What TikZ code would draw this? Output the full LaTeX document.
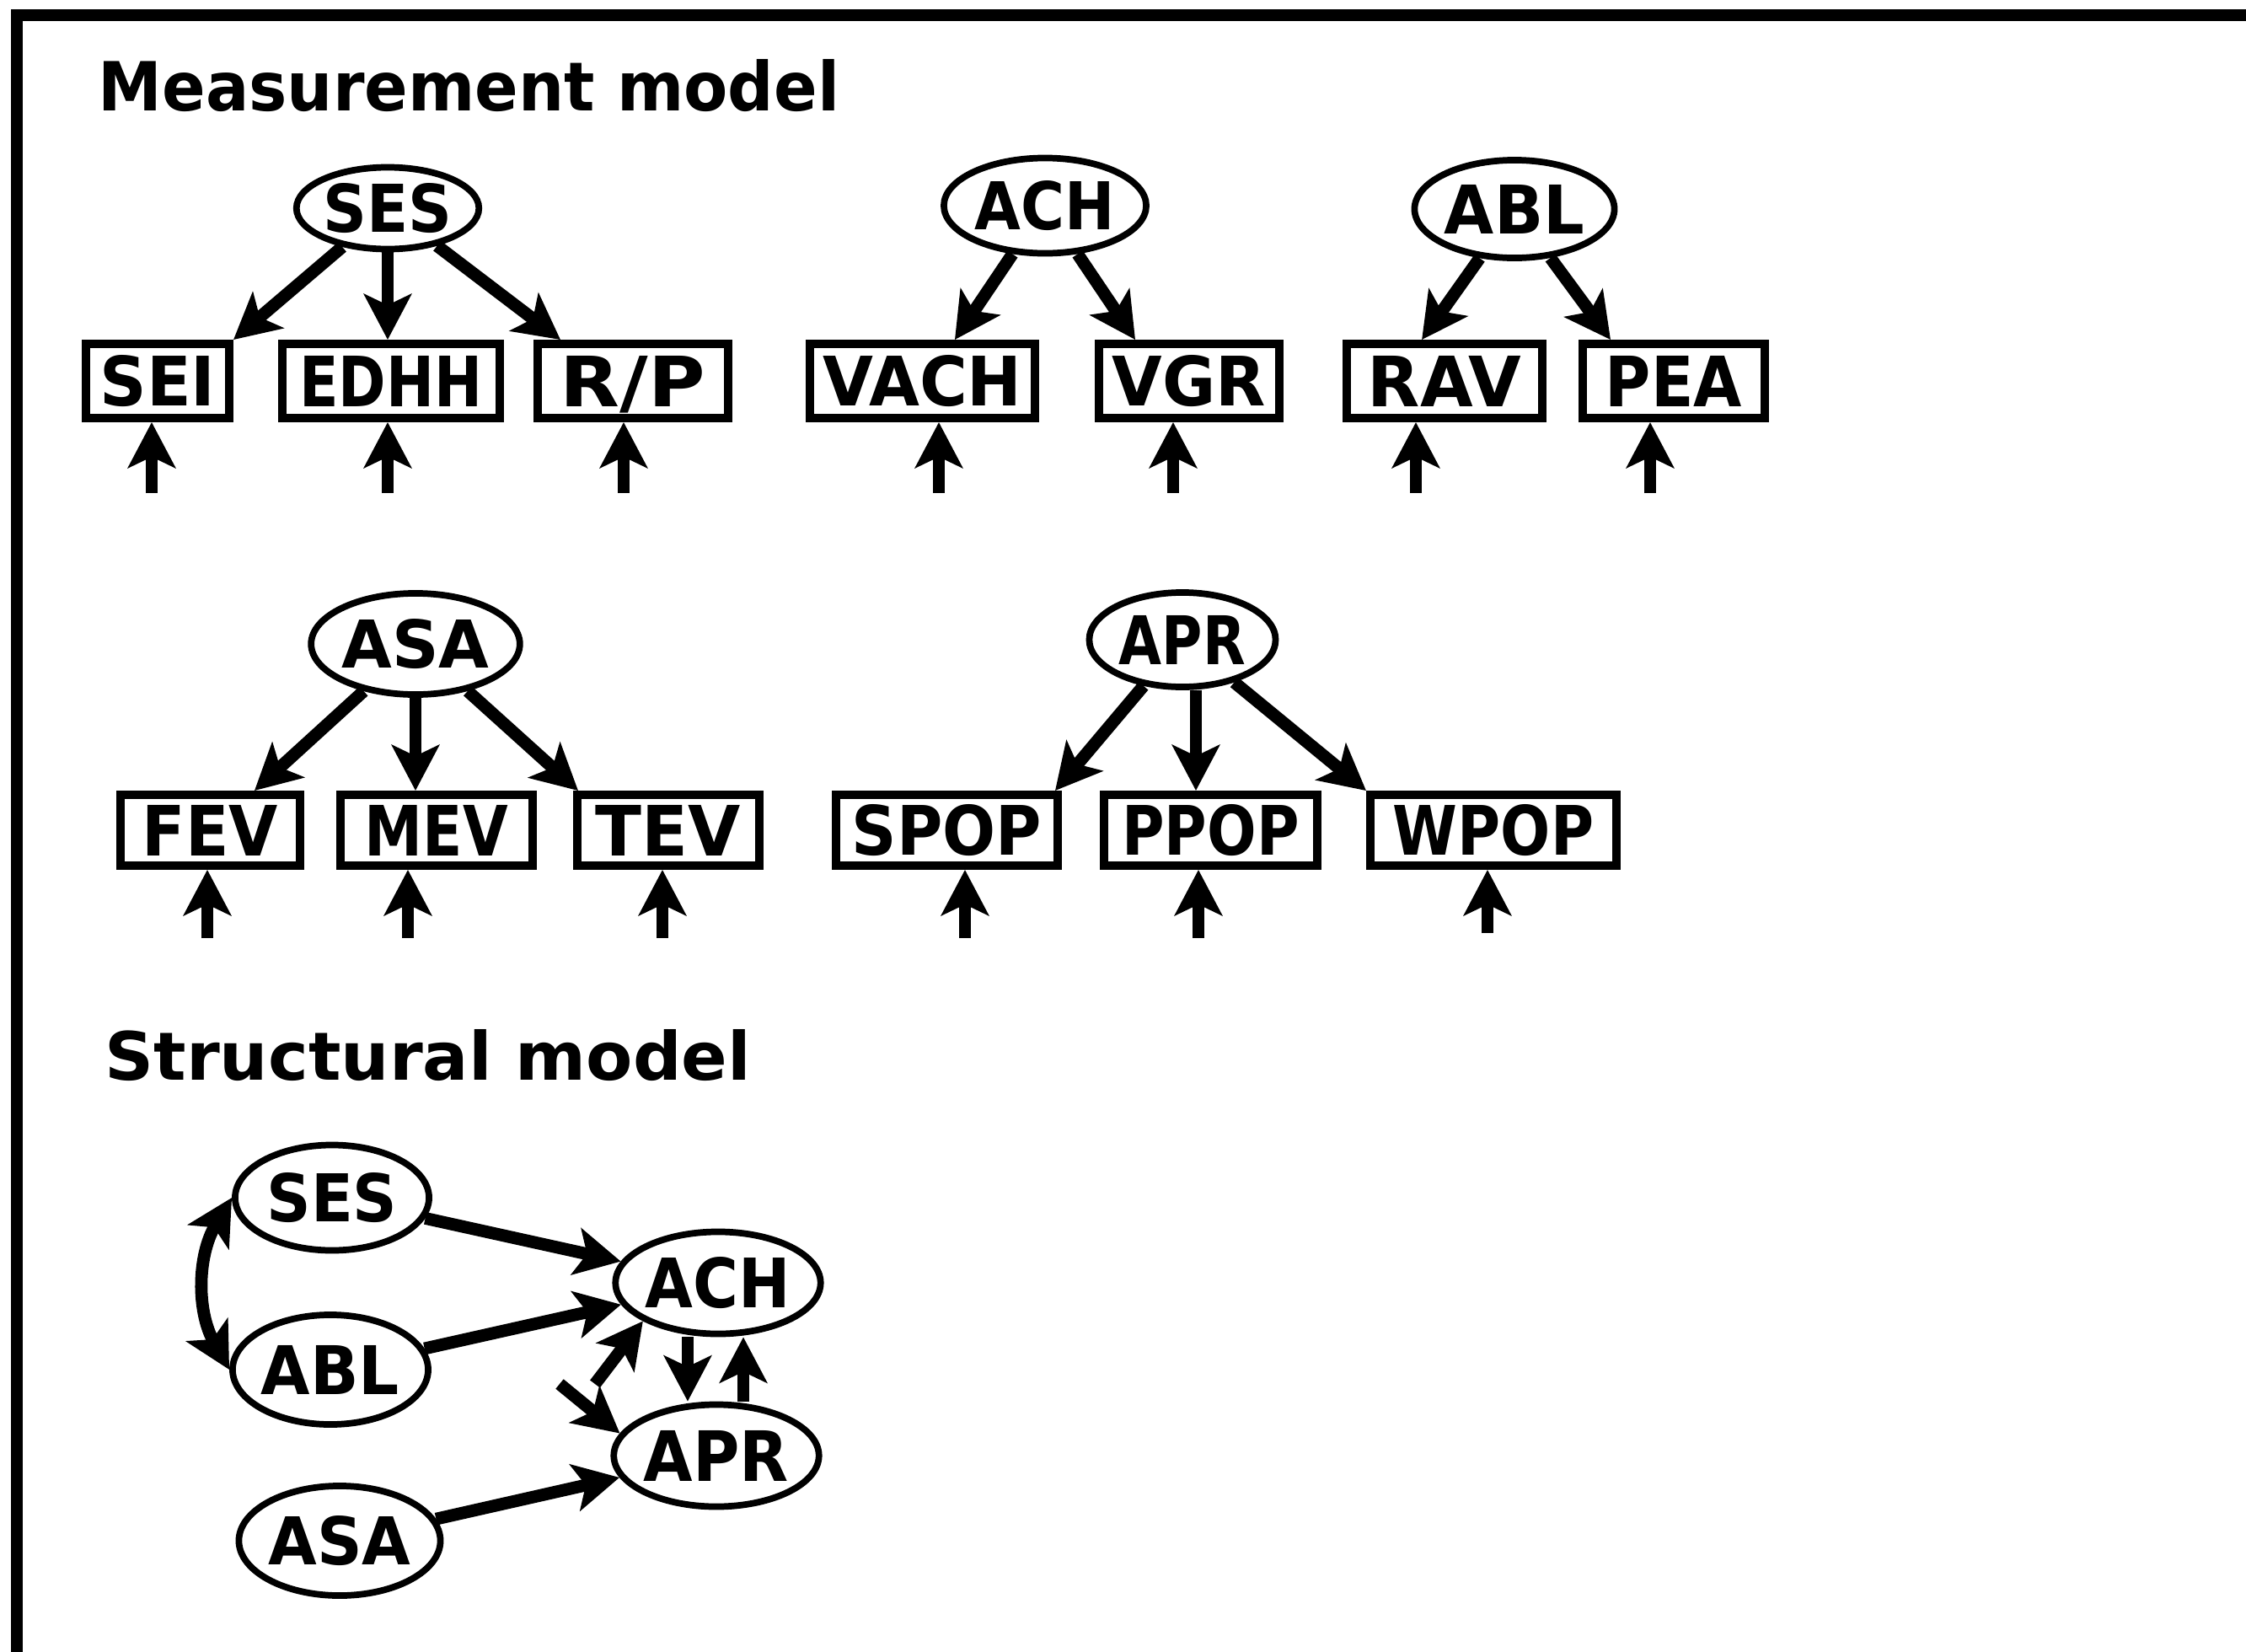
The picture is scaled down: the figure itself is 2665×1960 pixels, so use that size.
\documentclass[tikz,border=0pt]{standalone}
\usepackage{fontspec}
\setmainfont{DejaVu Sans}
\usetikzlibrary{arrows.meta,shapes.geometric,calc}
\newcommand{\fitt}[3]{\resizebox{#1}{#2}{\bfseries #3}}
\begin{document}
\begin{tikzpicture}[x=0.01cm,y=-0.01cm,
  lat/.style={draw, ellipse, line width=2.2pt, inner sep=0pt},
  obs/.style={draw, rectangle, line width=2.8pt, inner sep=0pt},
  arr/.style={line width=4.2pt, -{Stealth[length=5.4mm,width=5.6mm,inset=1.3mm]}},
  darr/.style={line width=4.2pt, {Stealth[length=5.4mm,width=5.6mm,inset=1.3mm]}-{Stealth[length=5.4mm,width=5.6mm,inset=1.3mm]}},
  ]
\useasboundingbox (0,0) rectangle (2665,1960);
% frame
\draw[line width=4.2pt] (20,1960) -- (20,18) -- (2665,18);

% titles
\node[anchor=south west, inner sep=0pt] (tMeas) at (116,133) {\fitt{87.9mm}{6.1mm}{Measurement model}};
\node[anchor=south west, inner sep=0pt] (tStruct) at (124,1283) {\fitt{76.6mm}{6.0mm}{Structural model}};

% ---------- measurement model, row 1
\node[lat, minimum width=21.6mm, minimum height=9.7mm] (SES) at (460,247) {\fitt{15.3mm}{5.8mm}{SES}};
\node[lat, minimum width=24.0mm, minimum height=11.3mm] (ACH) at (1240,244) {\fitt{16.6mm}{5.8mm}{ACH}};
\node[lat, minimum width=23.7mm, minimum height=11.6mm] (ABL) at (1797,248) {\fitt{16.6mm}{5.8mm}{ABL}};

\node[obs, minimum width=17.0mm, minimum height=8.8mm] (SEI) at (187,452) {\fitt{13.7mm}{6mm}{SEI}};
\node[obs, minimum width=25.8mm, minimum height=8.8mm] (EDHH) at (464,452) {\fitt{21.7mm}{6mm}{EDHH}};
\node[obs, minimum width=22.6mm, minimum height=8.8mm] (RP) at (751,452) {\fitt{17.2mm}{6mm}{R\smash{/}P}};
\node[obs, minimum width=26.7mm, minimum height=8.8mm] (VACH) at (1094.5,452) {\fitt{23.6mm}{6mm}{VACH}};
\node[obs, minimum width=21.4mm, minimum height=8.8mm] (VGR) at (1411,452) {\fitt{18.2mm}{6mm}{VGR}};
\node[obs, minimum width=23.2mm, minimum height=8.8mm] (RAV) at (1714,452) {\fitt{18.2mm}{6mm}{RAV}};
\node[obs, minimum width=21.6mm, minimum height=8.8mm] (PEA) at (1986,452) {\fitt{16.2mm}{6mm}{PEA}};

\draw[arr] (SES) -- (SEI.north east);
\draw[arr] (SES) -- (SES |- EDHH.north);
\draw[arr] (SES) -- ([xshift=3.2mm]RP.north west);
\draw[arr] (ACH) -- ([xshift=-10mm]VACH.north east);
\draw[arr] (ACH) -- ([xshift=4.8mm]VGR.north west);
\draw[arr] (ABL) -- ([xshift=9.4mm]RAV.north west);
\draw[arr] (ABL) -- ([xshift=3.8mm]PEA.north west);

\foreach \n/\xx in {SEI/180, EDHH/460, RP/740, VACH/1114, VGR/1392, RAV/1680, PEA/1958}{
  \coordinate (e\n) at (\xx,585);
  \draw[arr] (e\n) -- (e\n |- \n.south);
}

% ---------- measurement model, row 2
\node[lat, minimum width=22.4mm, minimum height=12.0mm] (ASA) at (493,764) {\fitt{17.5mm}{5.8mm}{ASA}};
\node[lat, minimum width=22.1mm, minimum height=11.2mm] (APR) at (1403,759) {\fitt{15.0mm}{5.8mm}{APR}};

\node[obs, minimum width=21.3mm, minimum height=8.4mm] (FEV) at (249.5,985) {\fitt{16.1mm}{6mm}{FEV}};
\node[obs, minimum width=22.8mm, minimum height=8.4mm] (MEV) at (518,985) {\fitt{17.0mm}{6mm}{MEV}};
\node[obs, minimum width=21.6mm, minimum height=8.4mm] (TEV) at (793,985) {\fitt{17.2mm}{6mm}{TEV}};
\node[obs, minimum width=26.3mm, minimum height=8.4mm] (SPOP) at (1123.5,985) {\fitt{22.5mm}{6mm}{SPOP}};
\node[obs, minimum width=25.3mm, minimum height=8.4mm] (PPOP) at (1436.5,985) {\fitt{21.0mm}{6mm}{PPOP}};
\node[obs, minimum width=29.2mm, minimum height=8.4mm] (WPOP) at (1772,985) {\fitt{23.8mm}{6mm}{WPOP}};

\draw[arr] (ASA) -- ([xshift=-5.9mm]FEV.north east);
\draw[arr] (ASA) -- (ASA |- MEV.north);
\draw[arr] (ASA) -- ([xshift=0.6mm]TEV.north west);
\draw[arr] (APR) -- ([xshift=-0.8mm]SPOP.north east);
\draw[arr] ([xshift=1.6mm]APR.south) -- ([xshift=1.6mm]APR.south |- PPOP.north);
\draw[arr] (APR) -- (WPOP.north west);

\foreach \n/\xx/\yy in {FEV/246/1113, MEV/484/1113, TEV/786/1113, SPOP/1145/1113, PPOP/1422/1113, WPOP/1765/1107}{
  \coordinate (e\n) at (\xx,\yy);
  \draw[arr] (e\n) -- (e\n |- \n.south);
}

% ---------- structural model
\node[lat, minimum width=23.0mm, minimum height=12.5mm] (sSES) at (394,1421) {\fitt{15.5mm}{5.8mm}{SES}};
\node[lat, minimum width=21.7mm, minimum height=13.0mm] (sABL) at (392,1625) {\fitt{16.4mm}{5.8mm}{ABL}};
\node[lat, minimum width=22.9mm, minimum height=13.0mm] (sASA) at (403,1828) {\fitt{16.9mm}{5.8mm}{ASA}};
\node[lat, minimum width=22.0mm, minimum height=12.1mm] (sACH) at (852,1522) {\fitt{17.2mm}{6mm}{ACH}};
\node[lat, minimum width=23.4mm, minimum height=12.1mm] (sAPR) at (850,1727) {\fitt{17.2mm}{6mm}{APR}};

\draw[arr] (sSES) -- (sACH);
\draw[arr] (sABL) -- (sACH);
\draw[arr] (sASA) -- (sAPR);
\draw[arr] ([xshift=-3.6mm]sACH.south) -- ([xshift=-3.6mm]sACH.south |- sAPR.north);
\draw[arr] ([xshift=3.2mm]sAPR.north) -- ([xshift=3.2mm]sAPR.north |- sACH.south);
\coordinate (dACH) at (706,1642);
\draw[arr] (dACH) -- (sACH.207);
\coordinate (dAPR) at (664,1642);
\draw[arr] (dAPR) -- (sAPR.167);
\draw[darr] (sSES.west) to[bend right=30] (sABL.west);
\end{tikzpicture}
\end{document}
